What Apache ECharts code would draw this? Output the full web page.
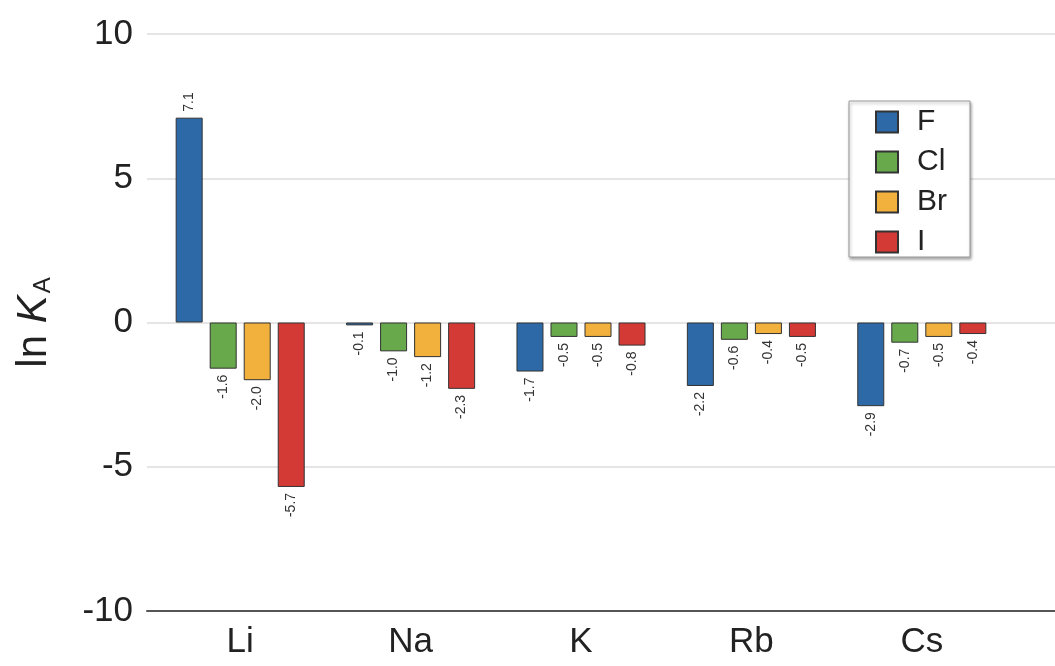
<!DOCTYPE html>
<html>
<head>
<meta charset="utf-8">
<script src="https://cdn.jsdelivr.net/npm/echarts@6/dist/echarts.min.js"></script>
<style>
  html, body { margin: 0; padding: 0; background: #fff; }
  #chart { width: 1055px; height: 666px; }
</style>
</head>
<body>
<div id="chart"></div>
<script>
// ion pair association constants, ln K_A
const cations = ['Li', 'Na', 'K', 'Rb', 'Cs'];
const anions = ['F', 'Cl', 'Br', 'I'];
const valF  = [7.1, -0.1, -1.7, -2.2, -2.9];
const valCl = [-1.6, -1.0, -0.5, -0.6, -0.7];
const valBr = [-2.0, -1.2, -0.5, -0.4, -0.5];
const valI  = [-5.7, -2.3, -0.8, -0.5, -0.4];
const yTicks = [-10, -5, 0, 5, 10];

const colors = ['#2d69a6', '#67a94b', '#f1b13c', '#d43a35'];
const seriesVals = [valF, valCl, valBr, valI];

let chart = echarts.init(document.getElementById('chart'));

chart.setOption({
  animation: false,
  textStyle: { fontFamily: 'Liberation Sans, Arial, sans-serif' },
  grid: [
    // background grid: full-width gridlines
    { left: 147, right: 0, top: 34, bottom: 55 },
    // bars
    { left: 155, right: 48, top: 34, bottom: 55 }
  ],
  legend: {
    orient: 'vertical',
    left: 849,
    top: 101,
    data: anions,
    icon: 'rect',
    itemWidth: 22,
    itemHeight: 21,
    itemGap: 10,
    padding: [6, 23, 0, 26],
    backgroundColor: '#fff',
    borderColor: '#9a9a9a',
    borderWidth: 1,
    shadowColor: 'rgba(0,0,0,0.35)',
    shadowBlur: 3,
    shadowOffsetX: 1,
    shadowOffsetY: 2,
    textStyle: { fontSize: 30, color: '#222', padding: [0, 0, 0, 14] }
  },
  xAxis: [
    {
      gridIndex: 0,
      type: 'value',
      min: 0,
      max: 1,
      position: 'bottom',
      axisLine: { show: true, onZero: false, lineStyle: { color: '#555', width: 2 } },
      axisTick: { show: false },
      axisLabel: { show: false },
      splitLine: { show: false }
    },
    {
      gridIndex: 1,
      type: 'category',
      data: cations,
      axisLine: { show: false },
      axisTick: { show: false },
      axisLabel: { fontSize: 35, color: '#222', margin: 14 }
    }
  ],
  yAxis: [
    {
      gridIndex: 0,
      type: 'value',
      min: yTicks[0],
      max: yTicks[yTicks.length - 1],
      interval: 5,
      axisLine: { show: false },
      axisTick: { show: false },
      axisLabel: { show: false },
      splitLine: { show: true, lineStyle: { color: '#dcdcdc', width: 1.5 } }
    },
    {
      gridIndex: 1,
      type: 'value',
      min: yTicks[0],
      max: yTicks[yTicks.length - 1],
      interval: 5,
      axisLine: { show: false },
      axisTick: { show: false },
      splitLine: { show: false },
      axisLabel: { fontSize: 35, color: '#222', margin: 22 },
      name: '{n|ln }{k|K}{s|A}',
      nameLocation: 'middle',
      nameRotate: 90,
      nameGap: 100,
      nameTextStyle: {
        rich: {
          n: { fontSize: 42, color: '#222' },
          k: { fontSize: 42, color: '#222', fontStyle: 'italic' },
          s: { fontSize: 24, color: '#222', verticalAlign: 'bottom', padding: [18, 0, 0, 2] }
        }
      }
    }
  ],
  series: anions.map((name, i) => ({
    name: name,
    type: 'bar',
    xAxisIndex: 1,
    yAxisIndex: 1,
    barWidth: 27,
    barGap: '26%',
    itemStyle: { color: colors[i], borderColor: '#333', borderWidth: 1 },
    label: {
      show: true,
      position: 'outside',
      rotate: 90,
      distance: 6,
      fontSize: 14,
      color: '#333',
      verticalAlign: 'middle',
      formatter: p => p.value.toFixed(1)
    },
    data: seriesVals[i].map(v => ({
      value: v,
      label: { align: v >= 0 ? 'left' : 'right' }
    }))
  }))
});
</script>
</body>
</html>
